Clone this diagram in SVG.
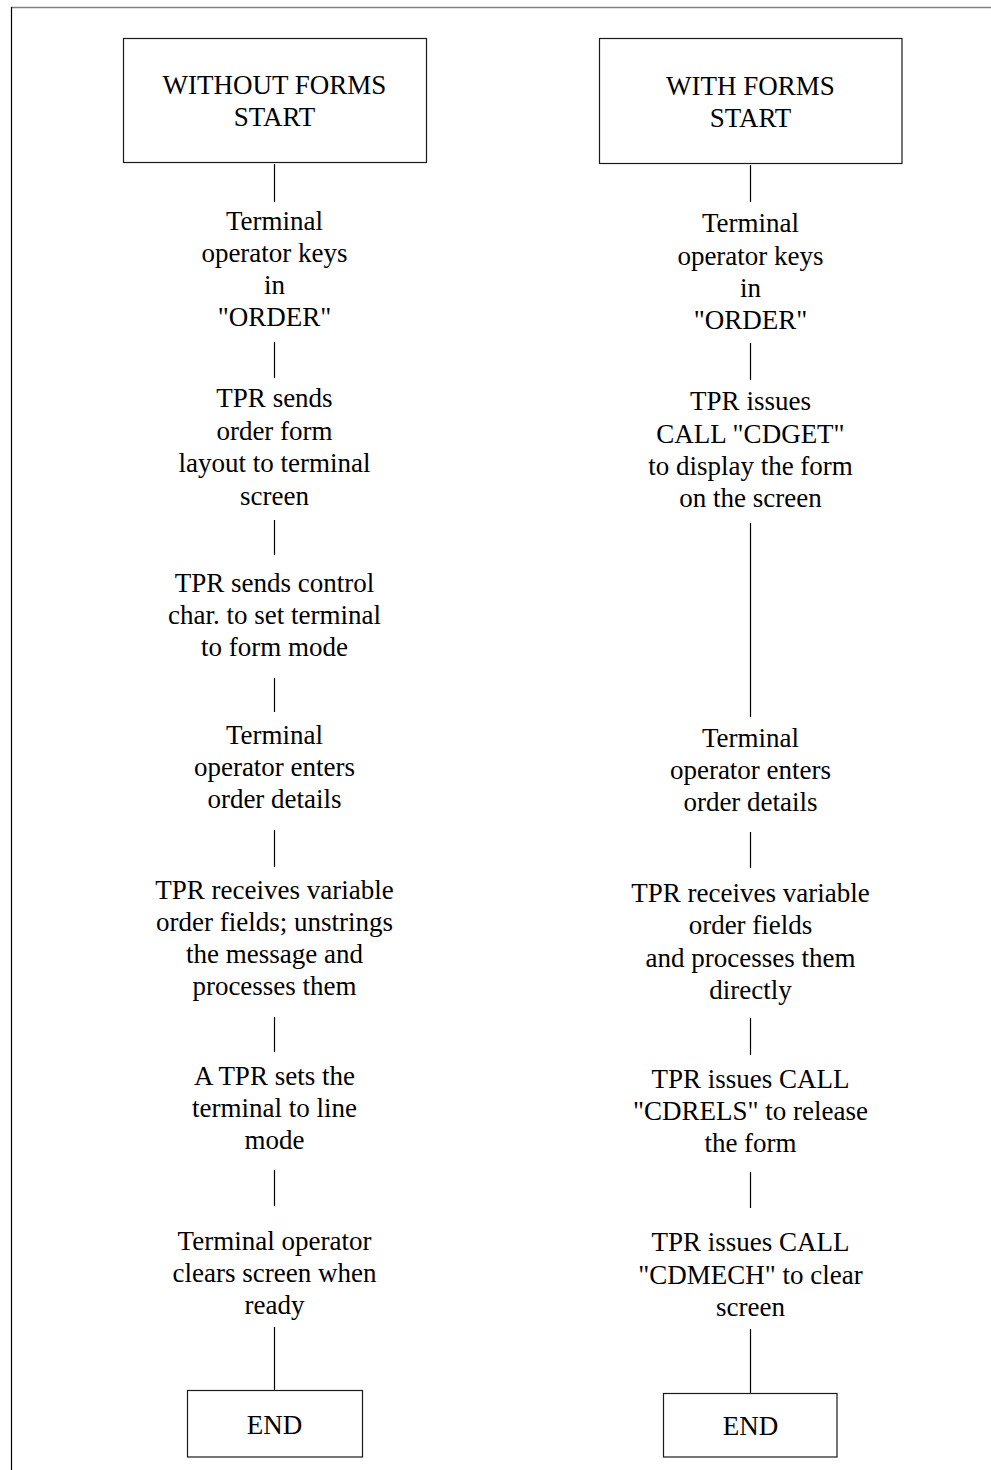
<svg xmlns="http://www.w3.org/2000/svg" width="991" height="1470" viewBox="0 0 991 1470">
  <style>
    .bg { fill: #ffffff; }
    .frame { stroke: #000000; stroke-width: 1.2; fill: none; }
    .frame-top { stroke: #808080; stroke-width: 1.5; fill: none; }
    .box { fill: #ffffff; stroke: #1a1a1a; stroke-width: 1.2; }
    .link { stroke: #000000; stroke-width: 1.2; fill: none; }
    .lbl { font-family: 'Liberation Serif', 'Times New Roman', Times, 'DejaVu Serif', serif; font-size: 27px; fill: #000000; text-anchor: middle; }
  </style>

  <rect class="bg" x="0" y="0" width="991" height="1470"/>

  <!-- page frame -->
  <line class="frame-top" x1="11" y1="7.5" x2="991" y2="7.5"/>
  <line class="frame" x1="11.5" y1="7" x2="11.5" y2="1470"/>

  <!-- connectors -->
  <g id="connectors">
    <line class="link" x1="274.5" y1="164" x2="274.5" y2="202"/>
    <line class="link" x1="274.5" y1="342" x2="274.5" y2="378"/>
    <line class="link" x1="274.5" y1="520" x2="274.5" y2="555"/>
    <line class="link" x1="274.5" y1="678" x2="274.5" y2="712"/>
    <line class="link" x1="274.5" y1="830" x2="274.5" y2="867"/>
    <line class="link" x1="274.5" y1="1017" x2="274.5" y2="1052"/>
    <line class="link" x1="274.5" y1="1170" x2="274.5" y2="1206"/>
    <line class="link" x1="274.5" y1="1327" x2="274.5" y2="1390"/>

    <line class="link" x1="750.5" y1="165" x2="750.5" y2="202"/>
    <line class="link" x1="750.5" y1="343" x2="750.5" y2="380"/>
    <line class="link" x1="750.5" y1="523" x2="750.5" y2="717"/>
    <line class="link" x1="750.5" y1="832" x2="750.5" y2="868"/>
    <line class="link" x1="750.5" y1="1018" x2="750.5" y2="1055"/>
    <line class="link" x1="750.5" y1="1172" x2="750.5" y2="1208"/>
    <line class="link" x1="750.5" y1="1329" x2="750.5" y2="1393"/>
  </g>

  <g class="lbl" font-family="'Liberation Serif', 'Times New Roman', serif" font-size="27" text-anchor="middle">
    <!-- left flow: without forms -->
    <g id="l-start">
      <rect class="box" x="123.5" y="38.5" width="303" height="124"/>
      <text x="274.5" y="94">WITHOUT FORMS</text>
      <text x="274.5" y="126">START</text>
    </g>
    <g id="l-keys">
      <text x="274.5" y="230">Terminal</text>
      <text x="274.5" y="262">operator keys</text>
      <text x="274.5" y="294">in</text>
      <text x="274.5" y="326">"ORDER"</text>
    </g>
    <g id="l-layout">
      <text x="274.5" y="407">TPR sends</text>
      <text x="274.5" y="439.5">order form</text>
      <text x="274.5" y="472">layout to terminal</text>
      <text x="274.5" y="504.5">screen</text>
    </g>
    <g id="l-formmode">
      <text x="274.5" y="592">TPR sends control</text>
      <text x="274.5" y="624">char. to set terminal</text>
      <text x="274.5" y="656">to form mode</text>
    </g>
    <g id="l-enter">
      <text x="274.5" y="744">Terminal</text>
      <text x="274.5" y="776">operator enters</text>
      <text x="274.5" y="808">order details</text>
    </g>
    <g id="l-receive">
      <text x="274.5" y="899">TPR receives variable</text>
      <text x="274.5" y="931">order fields; unstrings</text>
      <text x="274.5" y="963">the message and</text>
      <text x="274.5" y="995">processes them</text>
    </g>
    <g id="l-linemode">
      <text x="274.5" y="1085">A TPR sets the</text>
      <text x="274.5" y="1117">terminal to line</text>
      <text x="274.5" y="1149">mode</text>
    </g>
    <g id="l-clear">
      <text x="274.5" y="1250">Terminal operator</text>
      <text x="274.5" y="1282">clears screen when</text>
      <text x="274.5" y="1314">ready</text>
    </g>
    <g id="l-end">
      <rect class="box" x="187.5" y="1390.5" width="175" height="66.5"/>
      <text x="274.5" y="1434">END</text>
    </g>

    <!-- right flow: with forms -->
    <g id="r-start">
      <rect class="box" x="599.5" y="38.5" width="302.5" height="125"/>
      <text x="750.5" y="95">WITH FORMS</text>
      <text x="750.5" y="127">START</text>
    </g>
    <g id="r-keys">
      <text x="750.5" y="232">Terminal</text>
      <text x="750.5" y="265">operator keys</text>
      <text x="750.5" y="297">in</text>
      <text x="750.5" y="329">"ORDER"</text>
    </g>
    <g id="r-cdget">
      <text x="750.5" y="410">TPR issues</text>
      <text x="750.5" y="443">CALL "CDGET"</text>
      <text x="750.5" y="475">to display the form</text>
      <text x="750.5" y="507">on the screen</text>
    </g>
    <g id="r-enter">
      <text x="750.5" y="747">Terminal</text>
      <text x="750.5" y="779">operator enters</text>
      <text x="750.5" y="811">order details</text>
    </g>
    <g id="r-receive">
      <text x="750.5" y="902">TPR receives variable</text>
      <text x="750.5" y="934">order fields</text>
      <text x="750.5" y="967">and processes them</text>
      <text x="750.5" y="999">directly</text>
    </g>
    <g id="r-cdrels">
      <text x="750.5" y="1088">TPR issues CALL</text>
      <text x="750.5" y="1120">"CDRELS" to release</text>
      <text x="750.5" y="1152">the form</text>
    </g>
    <g id="r-cdmech">
      <text x="750.5" y="1251">TPR issues CALL</text>
      <text x="750.5" y="1284">"CDMECH" to clear</text>
      <text x="750.5" y="1316">screen</text>
    </g>
    <g id="r-end">
      <rect class="box" x="663.5" y="1393.5" width="173.5" height="63.5"/>
      <text x="750.5" y="1435">END</text>
    </g>
  </g>
</svg>
